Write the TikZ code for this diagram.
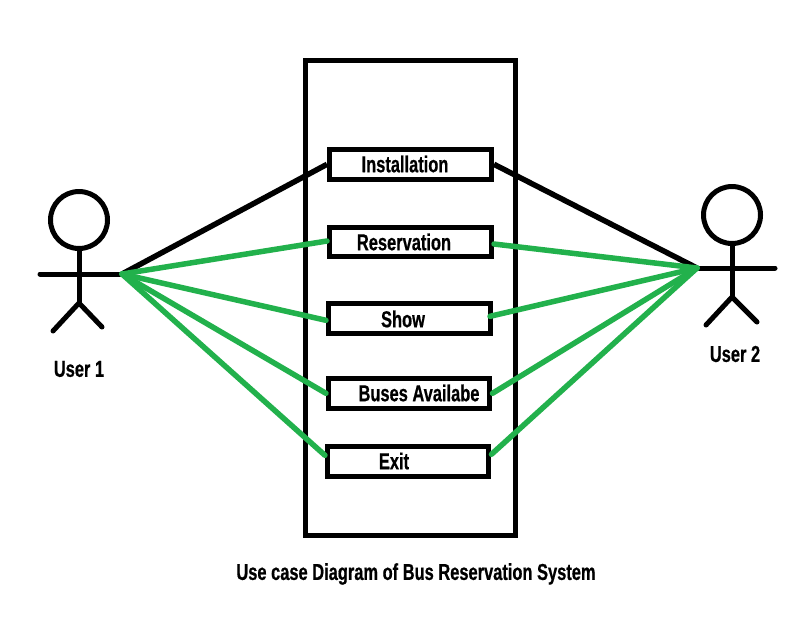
\documentclass[tikz,border=0pt]{standalone}
\usepackage{fontspec}
\setmainfont[FakeStretch=0.715,FakeBold=0.6]{Liberation Sans Bold}
\definecolor{paintgreen}{HTML}{22B14C}
\tikzset{
  sysbox/.style={draw=black,line width=5pt,fill=white,inner sep=0pt,rectangle},
  usecase/.style={draw=black,line width=5pt,fill=white,inner sep=0pt,rectangle},
  txt/.style={font=\fontsize{23}{25}\selectfont,text=black,inner sep=0pt,anchor=center},
  stick/.style={draw=black,line width=5pt,line cap=round},
  blackline/.style={draw=black,line width=5.5pt},
  greenline/.style={draw=paintgreen,line width=5.5pt,line cap=round}
}
\begin{document}
\begin{tikzpicture}[x=1pt,y=-1pt]
\useasboundingbox[fill=white] (0,0) rectangle (802,625);
% system
\node[sysbox,minimum width=210pt,minimum height=475pt] (sys) at (410.5,298) {};
% use cases
\node[usecase,minimum width=162pt,minimum height=29.5pt] (inst) at (410.5,164.3) {};
\node[usecase,minimum width=162pt,minimum height=29pt] (resv) at (410.5,242) {};
\node[usecase,minimum width=162pt,minimum height=29.5pt] (show) at (409.5,318.3) {};
\node[usecase,minimum width=161.5pt,minimum height=29.5pt] (buses) at (409.2,393.3) {};
\node[usecase,minimum width=161.5pt,minimum height=29.5pt] (exit) at (408.2,461.3) {};
\node[txt] (tinst) at (405,164) {Installation};
\node[txt] (tresv) at (404,242) {Reservation};
\node[txt] (tshow) at (403,319) {Show};
\node[txt] (tbuses) at (419,393) {Buses Availabe};
\node[txt] (texit) at (394,461) {Exit};
\node[txt] (title) at (416,574) {Use case Diagram of Bus Reservation System};
% actor 1
\node[draw=black,line width=5pt,circle,minimum size=57pt,inner sep=0pt] (head1) at (79,220) {};
\coordinate (hip1) at (79,303);
\coordinate (armL1) at (40,274);
\coordinate (hand1) at (122,274);
\coordinate (footL1) at (53,331);
\coordinate (footR1) at (102,327);
\draw[stick] (head1.south) -- (hip1);
\draw[stick] (armL1) -- (hand1);
\draw[stick] (footL1) -- (hip1) -- (footR1);
\node[txt] (user1) at (79,369) {User 1};
% actor 2
\node[draw=black,line width=5pt,circle,minimum size=57pt,inner sep=0pt] (head2) at (732,215) {};
\coordinate (hip2) at (732,297);
\coordinate (hand2) at (697,268);
\coordinate (armR2) at (775,268);
\coordinate (footL2) at (706,325);
\coordinate (footR2) at (757,322);
\draw[stick] (head2.south) -- (hip2);
\draw[stick] (hand2) -- (armR2);
\draw[stick] (footL2) -- (hip2) -- (footR2);
\node[txt] (user2) at (735,354) {User 2};
% connectors
\draw[blackline] (hand1) -- (inst.west);
\draw[blackline] (inst.east) -- (hand2);
\draw[greenline] (hand1) -- ([yshift=1pt]resv.west);
\draw[greenline] (hand1) -- ([yshift=-2pt]show.west);
\draw[greenline] (hand1) -- (buses.west);
\draw[greenline] (hand1) -- ([yshift=6pt]exit.west);
\draw[greenline] (hand2) -- ([yshift=-2pt]resv.east);
\draw[greenline] (hand2) -- ([xshift=-3pt,yshift=2pt]show.east);
\draw[greenline] (hand2) -- (buses.east);
\draw[greenline] (hand2) -- ([yshift=7pt]exit.east);
\end{tikzpicture}
\end{document}
